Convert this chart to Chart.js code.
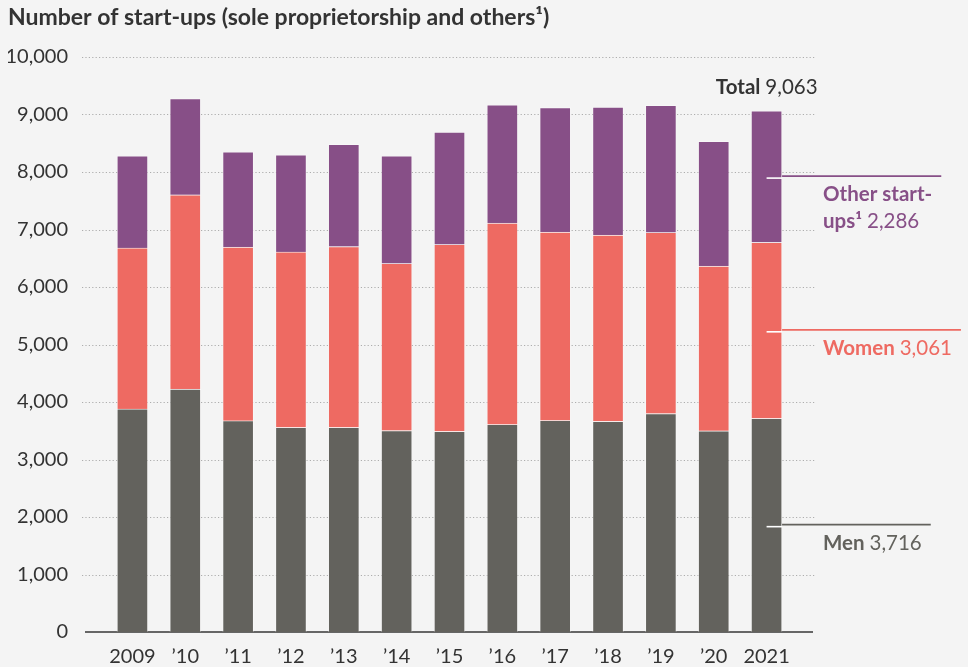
<!DOCTYPE html>
<html>
<head>
<meta charset="utf-8">
<script src="https://cdn.jsdelivr.net/npm/chart.js@4.4.1/dist/chart.umd.min.js"></script>
<style>
html, body { margin: 0; padding: 0; background: #f4f4f4; overflow: hidden; }
#wrap { position: relative; width: 968px; height: 667px; }
</style>
</head>
<body>
<div id="wrap"><canvas id="startupChart"></canvas></div>
<script>
// data
const years = ["2009", "\u201910", "\u201911", "\u201912", "\u201913", "\u201914", "\u201915", "\u201916", "\u201917", "\u201918", "\u201919", "\u201920", "2021"];
const men = [3880, 4225, 3675, 3560, 3560, 3505, 3490, 3610, 3680, 3665, 3800, 3500, 3716];
const women = [2800, 3380, 3020, 3050, 3145, 2905, 3250, 3500, 3275, 3240, 3150, 2865, 3061];
const others = [1600, 1670, 1655, 1690, 1775, 1870, 1955, 2060, 2165, 2225, 2210, 2170, 2286];
const yTicks = [0, 1000, 2000, 3000, 4000, 5000, 6000, 7000, 8000, 9000, 10000];

const C_MEN = '#63625d';
const C_WOMEN = '#ee6a62';
const C_OTHER = '#874f87';
const C_TEXT = '#333333';
const FONT = 'Lato, "Open Sans", sans-serif';
const LABEL_SIZE = 20.5;

const fmt = v => v.toLocaleString('en-US');

// dotted gridlines and baseline, wider than the bar area
const gridPlugin = {
    id: 'dotGrid',
    beforeDatasetsDraw(chart) {
        const { ctx } = chart;
        const y = chart.scales.y;
        const x0 = 82, x1 = 815;
        ctx.save();
        ctx.strokeStyle = '#adadad';
        ctx.lineWidth = 1.2;
        ctx.setLineDash([1.2, 2.2]);
        yTicks.forEach(t => {
            if (t === 0) return;
            const py = Math.round(y.getPixelForValue(t)) + 0.5;
            ctx.beginPath();
            ctx.moveTo(x0, py);
            ctx.lineTo(x1, py);
            ctx.stroke();
        });
        ctx.setLineDash([]);
        ctx.strokeStyle = '#666';
        ctx.lineWidth = 2;
        const by = y.getPixelForValue(0);
        ctx.beginPath();
        ctx.moveTo(85, by);
        ctx.lineTo(813, by);
        ctx.stroke();
        ctx.restore();
    }
};

function setFont(ctx, p) {
    ctx.font = (p.bold ? 'bold ' : '') + LABEL_SIZE + 'px ' + FONT;
}

function drawParts(ctx, x, y, parts, color) {
    ctx.fillStyle = color;
    ctx.textBaseline = 'middle';
    ctx.textAlign = 'left';
    let cx = x;
    parts.forEach(p => {
        setFont(ctx, p);
        ctx.fillText(p.text, cx, y);
        cx += ctx.measureText(p.text).width;
    });
}

function partsWidth(ctx, parts) {
    let w = 0;
    parts.forEach(p => {
        setFont(ctx, p);
        w += ctx.measureText(p.text).width;
    });
    return w;
}

// labels for the last bar
const labelPlugin = {
    id: 'lastLabels',
    afterDraw(chart) {
        const { ctx } = chart;
        const y = chart.scales.y;
        const last = years.length - 1;
        const bar = chart.getDatasetMeta(0).data[last];
        const bx = bar.x, right = bar.x + bar.width / 2;
        const m = men[last], w = women[last], o = others[last];
        const total = m + w + o;
        ctx.save();

        // total
        const totParts = [{ text: 'Total ', bold: true }, { text: fmt(total) }];
        const tw = partsWidth(ctx, totParts);
        const topY = y.getPixelForValue(total);
        drawParts(ctx, bx + 51 - tw, topY - 23, totParts, C_TEXT);

        const items = [
            { mid: m / 2, color: C_MEN, lines: [[{ text: 'Men ', bold: true }, { text: fmt(m) }]] },
            { mid: m + w / 2, color: C_WOMEN, lines: [[{ text: 'Women ', bold: true }, { text: fmt(w) }]] },
            { mid: m + w + o / 2, color: C_OTHER, lines: [[{ text: 'Other start-', bold: true }], [{ text: 'ups\u00b9 ', bold: true }, { text: fmt(o) }]] }
        ];
        const lx = 823;
        items.forEach(it => {
            const ly = y.getPixelForValue(it.mid);
            let maxW = 0;
            it.lines.forEach(l => { maxW = Math.max(maxW, partsWidth(ctx, l)); });
            // white tick inside bar
            ctx.strokeStyle = '#ffffff';
            ctx.lineWidth = 1.6;
            ctx.beginPath();
            ctx.moveTo(bx, ly + 1.5);
            ctx.lineTo(right, ly + 1.5);
            ctx.stroke();
            // coloured leader
            ctx.strokeStyle = it.color;
            ctx.beginPath();
            ctx.moveTo(right, ly - 0.5);
            ctx.lineTo(lx + maxW + 9, ly - 0.5);
            ctx.stroke();
            it.lines.forEach((l, i) => {
                drawParts(ctx, lx, ly + 18 + i * 27, l, it.color);
            });
        });
        ctx.restore();
    }
};

const ctx = document.getElementById('startupChart').getContext('2d');
new Chart(ctx, {
    type: 'bar',
    data: {
        labels: years,
        datasets: [
            { label: 'Men', data: men, backgroundColor: C_MEN, borderColor: 'rgba(255,255,255,0.3)', borderWidth: 1, barThickness: 31 },
            { label: 'Women', data: women, backgroundColor: C_WOMEN, borderColor: 'rgba(255,255,255,0.3)', borderWidth: 1, barThickness: 31 },
            { label: 'Other start-ups', data: others, backgroundColor: C_OTHER, borderColor: 'rgba(255,255,255,0.3)', borderWidth: 1, barThickness: 31 }
        ]
    },
    options: {
        responsive: true,
        maintainAspectRatio: false,
        devicePixelRatio: 1,
        animation: false,
        layout: { padding: { left: 8, right: 175, top: 0, bottom: 0 } },
        plugins: {
            legend: { display: false },
            tooltip: { enabled: false },
            title: {
                display: true,
                text: 'Number of start-ups (sole proprietorship and others\u00b9)',
                align: 'start',
                color: C_TEXT,
                font: { family: FONT, size: 23, weight: 'bold' },
                padding: { top: 3.3, bottom: 26.1 }
            }
        },
        scales: {
            x: {
                stacked: true,
                grid: { display: false, drawTicks: false },
                border: { display: false },
                ticks: { color: C_TEXT, font: { family: FONT, size: 20 }, padding: 12.5, maxRotation: 0, autoSkip: false },
                afterFit: s => { s.height = 35; }
            },
            y: {
                stacked: true,
                min: 0,
                max: 10000,
                grid: { display: false, drawTicks: false },
                border: { display: false },
                ticks: {
                    stepSize: 1000,
                    color: C_TEXT,
                    font: { family: FONT, size: 20 },
                    padding: 38,
                    callback: v => fmt(v)
                },
                afterFit: s => {
                    s.width = 98;
                    s.paddingTop = 12;
                    s.paddingBottom = 12;
                }
            }
        }
    },
    plugins: [gridPlugin, labelPlugin]
});
</script>
</body>
</html>
